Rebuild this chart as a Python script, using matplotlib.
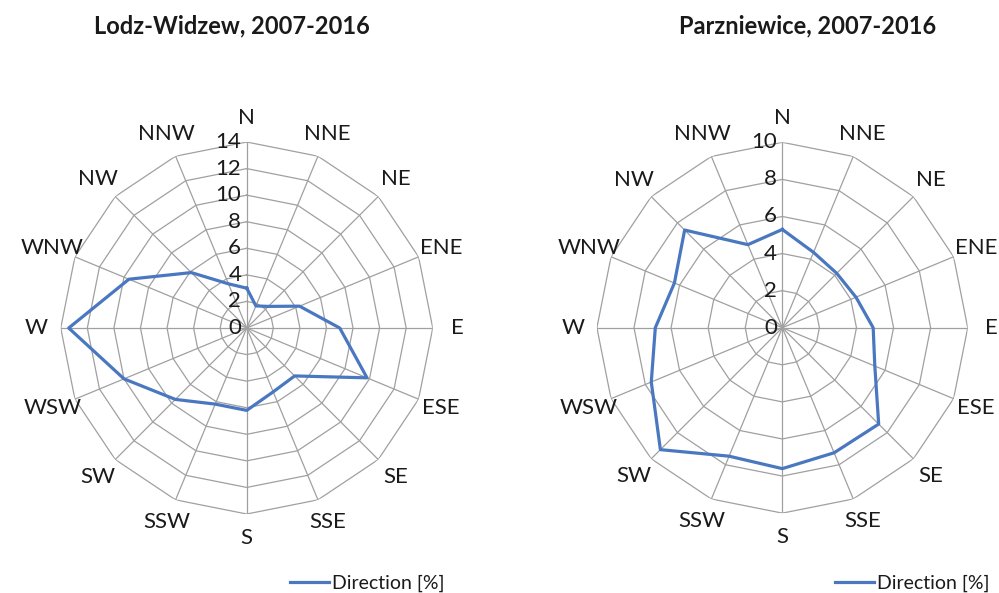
import numpy as np
import matplotlib
matplotlib.use('Agg')
import matplotlib.pyplot as plt

plt.rcParams['font.family'] = ['Lato', 'DejaVu Sans']

# wind directions (clockwise from N)
directions = ['N', 'NNE', 'NE', 'ENE', 'E', 'ESE', 'SE', 'SSE',
              'S', 'SSW', 'SW', 'WSW', 'W', 'WNW', 'NW', 'NNW']

# frequency of wind direction [%]
lodz = [3.0, 1.8, 2.3, 4.3, 7.0, 9.8, 5.1, 5.2,
        6.2, 6.2, 7.6, 10.0, 13.4, 9.6, 5.9, 3.6]
parz = [5.3, 4.4, 4.15, 4.3, 4.9, 5.4, 7.35, 7.3,
        7.6, 7.5, 9.3, 7.65, 6.85, 6.3, 7.45, 4.85]

titles = ['Lodz-Widzew, 2007-2016', 'Parzniewice, 2007-2016']
rmaxes = [14, 10]

line_col = '#4a78c0'
grid_col = '#a0a0a0'
txt_col = '#1a1a1a'

fig = plt.figure(figsize=(9.99, 5.93), dpi=100)
boxes = [[0.0608, 0.1332, 0.3724, 0.6273], [0.5975, 0.1347, 0.3712, 0.6253]]
title_x = [0.2317, 0.8085]
legend_x = [0.290, 0.836]

ang = np.linspace(0, 2 * np.pi, len(directions), endpoint=False)
ang_c = np.append(ang, ang[0])

for i, vals in enumerate([lodz, parz]):
    ax = fig.add_axes(boxes[i], projection='polar')
    ax.set_theta_zero_location('N')
    ax.set_theta_direction(-1)
    rmax = rmaxes[i]
    ax.set_ylim(0, rmax)
    ax.grid(False)
    ax.spines['polar'].set_visible(False)
    ax.set_xticks([])
    ax.set_yticks([])
    ax.patch.set_alpha(0)

    # polygon grid like the excel radar chart
    for r in range(2, rmax + 1, 2):
        ax.plot(ang_c, [r] * len(ang_c), color=grid_col, lw=0.9, zorder=1)
    for a in ang:
        ax.plot([a, a], [0, rmax], color=grid_col, lw=0.9, zorder=1)

    v = list(vals) + [vals[0]]
    ax.plot(ang_c, v, color=line_col, lw=2.3, zorder=3, label='Direction [%]')

    for a, d in zip(ang, directions):
        ax.text(a, rmax * 1.13, d, ha='center', va='center',
                fontsize=16, color=txt_col)
    for r in range(0, rmax + 1, 2):
        ax.annotate(str(r), xy=(0, r), xytext=(-4, 0), textcoords='offset points',
                    ha='right', va='center', fontsize=16, color=txt_col)

    fig.text(title_x[i], 0.956, titles[i], ha='center', va='center',
             fontsize=17, fontweight='bold', color=txt_col)
    ax.legend(loc='center left', bbox_to_anchor=(legend_x[i], 0.017),
              bbox_transform=fig.transFigure, frameon=False, fontsize=14,
              handlelength=2.0, handletextpad=0.15, borderpad=0,
              borderaxespad=0, labelcolor=txt_col)

fig.savefig('out.png', dpi=100)
